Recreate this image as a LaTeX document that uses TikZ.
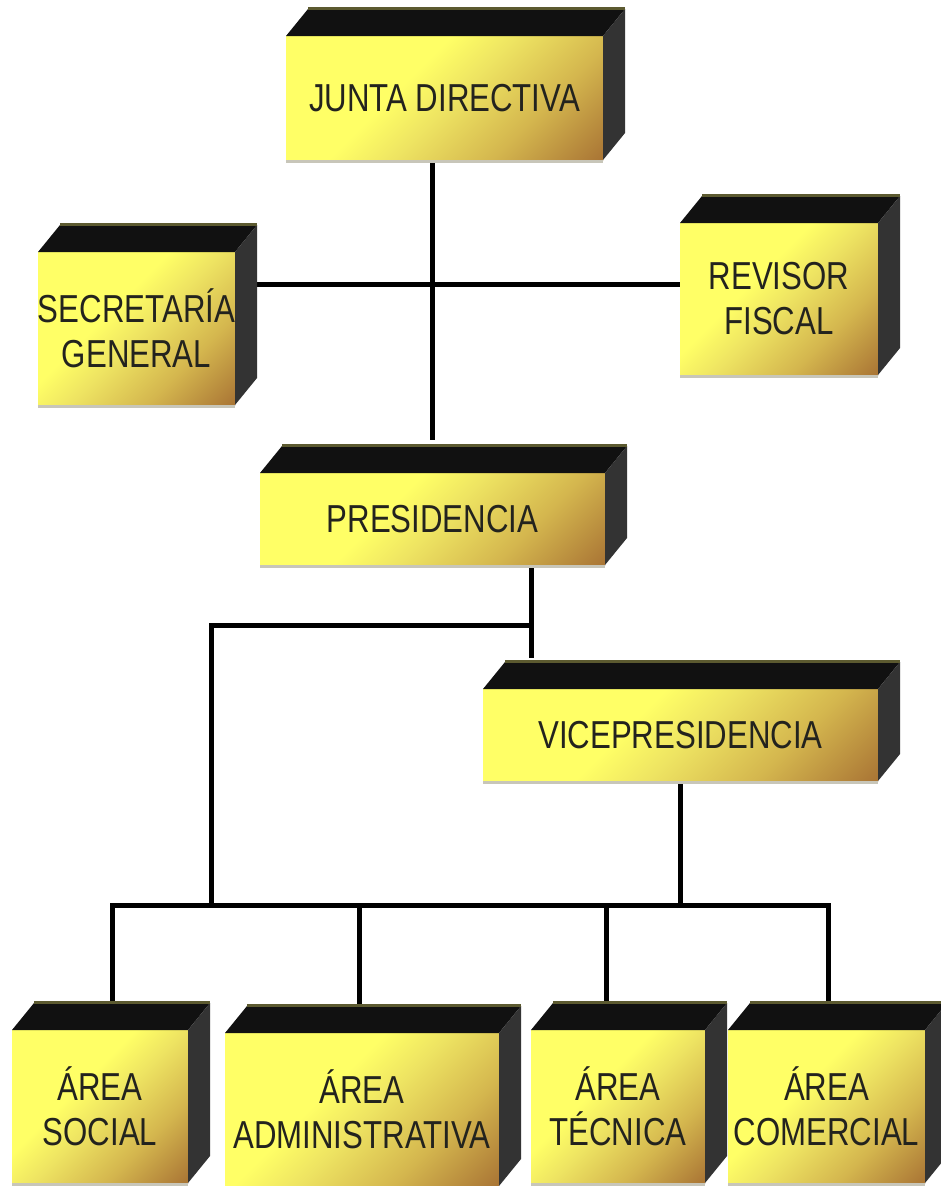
\documentclass[tikz,border=0pt]{standalone}
\usepackage{fontspec}
\newfontfamily\boxfont[FakeStretch=0.8]{Liberation Sans}
\usetikzlibrary{backgrounds,calc}
\definecolor{boxyellow}{RGB}{255,255,102}
\definecolor{boxlight}{RGB}{238,228,98}
\definecolor{boxgold}{RGB}{212,182,78}
\definecolor{boxbrown}{RGB}{165,110,50}
\definecolor{boxdark}{RGB}{150,95,40}
\definecolor{topc}{RGB}{17,17,17}
\definecolor{sidec}{RGB}{51,51,51}
\definecolor{edgec}{RGB}{92,90,48}
\definecolor{shadowc}{RGB}{200,198,185}
\definecolor{textc}{RGB}{35,35,30}
\pgfdeclareverticalshading{boxshade}{100bp}{color(0bp)=(boxdark); color(29bp)=(boxbrown); color(40bp)=(boxgold); color(49bp)=(boxlight); color(55bp)=(boxyellow); color(100bp)=(boxyellow)}
\tikzset{
  boxtext/.style={font=\boxfont\fontsize{39}{45}\selectfont, text=textc, align=center, inner sep=0pt},
  topface/.style={fill=topc},
  sideface/.style={fill=sidec},
  backedge/.style={draw=edgec, line width=3pt},
  undershadow/.style={fill=shadowc},
  conn/.style={line width=5pt, draw=black, line join=miter}
}
\newcommand\cubebox[6]{%
  \pgfmathsetmacro\cbR{0.442*(#4+#5)}%
  \begin{scope}
    \clip (#2-#4/2,#3-#5/2) rectangle (#2+#4/2,#3+#5/2);
    \shade[shading=boxshade,shading angle=45] (#2-\cbR,#3-\cbR) rectangle (#2+\cbR,#3+\cbR);
  \end{scope}
  \node[boxtext,minimum width=#4pt,minimum height=#5pt] (#1) at (#2,#3) {#6};
  \fill[undershadow] (#2-#4/2,#3+#5/2) rectangle (#2+#4/2,#3+#5/2+3);
  \fill[topface] (#2-#4/2,#3-#5/2) -- ++(22,-27) -- (#2+#4/2+22,#3-#5/2-27) -- (#2+#4/2,#3-#5/2) -- cycle;
  \fill[sideface] (#2+#4/2,#3-#5/2) -- ++(22,-27) -- (#2+#4/2+22,#3+#5/2-27) -- (#2+#4/2,#3+#5/2) -- cycle;
  \draw[backedge] (#2-#4/2+22,#3-#5/2-27.5) -- (#2+#4/2+22,#3-#5/2-27.5);
}
\begin{document}
\begin{tikzpicture}[x=1pt,y=-1pt]
\useasboundingbox (0,0) rectangle (941,1186);

\cubebox{jd}{444.5}{98}{317}{124}{JUNTA DIRECTIVA}
\cubebox{sg}{136.5}{328.5}{197}{153}{SECRETARÍA\\GENERAL}
\cubebox{rf}{779}{299}{198}{152}{REVISOR\\FISCAL}
\cubebox{pres}{432.5}{519}{345}{92}{PRESIDENCIA}
\cubebox{vp}{680.5}{735}{395}{92}{VICEPRESIDENCIA}
\cubebox{asoc}{100}{1106.5}{176}{153}{ÁREA\\SOCIAL}
\cubebox{aadm}{362}{1109.5}{274}{153}{ÁREA\\ADMINISTRATIVA}
\cubebox{atec}{618}{1106.5}{174}{153}{ÁREA\\TÉCNICA}
\cubebox{acom}{826.5}{1106.5}{197}{153}{ÁREA\\COMERCIAL}

\coordinate (hj) at (0,284);
\coordinate (ptop) at ([yshift=33pt]pres.north);
\coordinate (pv) at (531,625);
\coordinate (pl) at (211,625);
\coordinate (vtop) at ([yshift=31pt]vp.north);
\coordinate (bus) at (0,905);
\coordinate (b1) at (112,905);
\coordinate (b2) at (359,905);
\coordinate (b3) at (606,905);
\coordinate (b4) at (828,905);

\begin{pgfonlayer}{background}
  \fill[white] (0,0) rectangle (941,1186);
  \draw[conn] (jd.south -| ptop) -- (ptop);
  \draw[conn] (sg.east |- hj) -- (rf.west |- hj);
  \draw[conn] (pv |- pres.south) -- (pv |- vtop);
  \draw[conn] (pv) -- (pl) -- (pl |- bus);
  \draw[conn] (vp.south) -- (vp.south |- bus);
  \draw[conn] (b1 |- asoc.north) -- (b1) -- (b4) -- (b4 |- acom.north);
  \draw[conn] (b2) -- (b2 |- aadm.north);
  \draw[conn] (b3) -- (b3 |- atec.north);
\end{pgfonlayer}
\end{tikzpicture}
\end{document}
